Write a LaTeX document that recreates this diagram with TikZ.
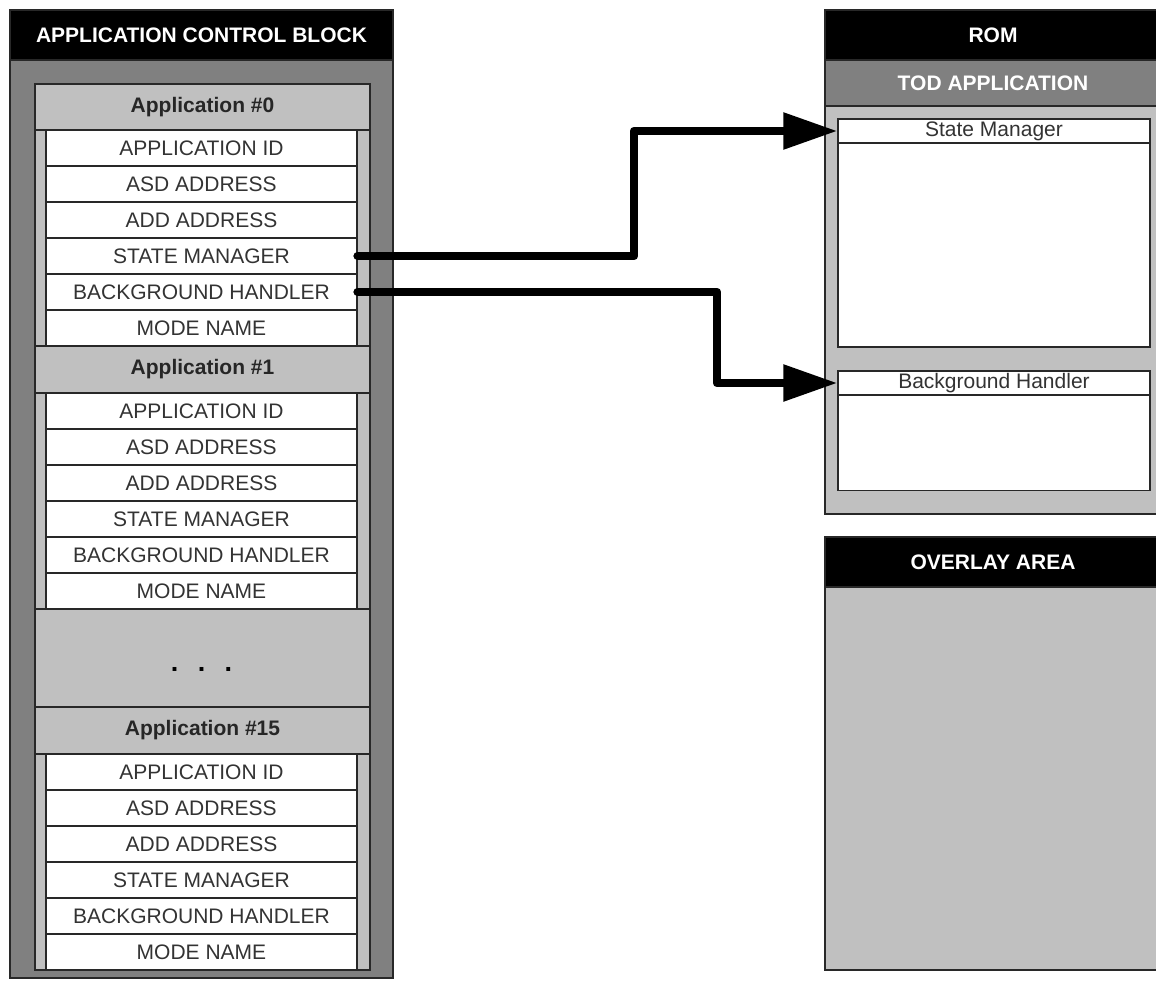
\documentclass[tikz,border=0pt]{standalone}
\usepackage{fontspec}
\setmainfont{Liberation Sans}
\usepackage{xcolor}
\usepackage{tikz}
\usetikzlibrary{arrows.meta,positioning,calc}

\definecolor{darkfill}{RGB}{128,128,128}
\definecolor{lightfill}{RGB}{192,192,192}
\definecolor{edge}{RGB}{40,40,40}

\begin{document}
\begin{tikzpicture}[
  x=1pt, y=-1pt,
  every node/.style={font=\fontsize{21}{24}\selectfont, inner sep=0pt},
  title/.style={rectangle, draw=edge, line width=1.2pt, fill=black,
    text=white, font=\fontsize{21}{24}\selectfont\bfseries,
    minimum width=#1, minimum height=50pt},
  panel/.style={rectangle, draw=edge, line width=1.2pt, fill=darkfill},
  column/.style={rectangle, draw=edge, line width=1.2pt, fill=lightfill,
    minimum width=335pt},
  apphead/.style={column, minimum height=47pt, text=black!85,
    font=\fontsize{21}{24}\selectfont\bfseries},
  field/.style={rectangle, draw=edge, line width=1.2pt, fill=white,
    minimum width=311pt, minimum height=36pt, text=black!80},
  slot/.style={rectangle, draw=edge, line width=1.2pt, fill=white,
    minimum width=312pt, text=black!80},
  arrow/.style={-{Triangle[length=54pt,width=35pt]}, line width=8.5pt,
    line cap=round, line join=round},
]
\path[use as bounding box, clip] (0,0) rectangle (1156,980);

% Application control block
\node[panel, minimum width=383pt, minimum height=918pt] (acb) at (201.5, 519) {};
\node[title=383pt] (acbtitle) at (201.5, 35) {APPLICATION CONTROL BLOCK};
\node[column, minimum height=886pt] (col) at (202.5, 527) {};

% Application #0
\node[apphead, minimum height=46pt] (app0) at (202.5, 107) {Application \#0};
\node[field] (a0id) at (201.5, 148) {APPLICATION ID};
\node[field] (a0asd) at (201.5, 184) {ASD ADDRESS};
\node[field] (a0add) at (201.5, 220) {ADD ADDRESS};
\node[field] (a0sm) at (201.5, 256) {STATE MANAGER};
\node[field] (a0bh) at (201.5, 292) {BACKGROUND HANDLER};
\node[field] (a0mn) at (201.5, 328) {MODE NAME};

% Application #1
\node[apphead] (app1) at (202.5, 369.5) {Application \#1};
\node[field] (a1id) at (201.5, 411) {APPLICATION ID};
\node[field] (a1asd) at (201.5, 447) {ASD ADDRESS};
\node[field] (a1add) at (201.5, 483) {ADD ADDRESS};
\node[field] (a1sm) at (201.5, 519) {STATE MANAGER};
\node[field] (a1bh) at (201.5, 555) {BACKGROUND HANDLER};
\node[field] (a1mn) at (201.5, 591) {MODE NAME};

% gap
\node[column, minimum height=98pt] (gap) at (202.5, 658) {};
\node[font=\fontsize{27}{30}\selectfont\bfseries] (dots) at (201.5, 669)
  {.\hspace{0.72em}.\hspace{0.72em}.};

% Application #15
\node[apphead] (app15) at (202.5, 730.5) {Application \#15};
\node[field] (a15id) at (201.5, 772) {APPLICATION ID};
\node[field] (a15asd) at (201.5, 808) {ASD ADDRESS};
\node[field] (a15add) at (201.5, 844) {ADD ADDRESS};
\node[field] (a15sm) at (201.5, 880) {STATE MANAGER};
\node[field] (a15bh) at (201.5, 916) {BACKGROUND HANDLER};
\node[field] (a15mn) at (201.5, 952) {MODE NAME};

% ROM
\node[panel, fill=lightfill, minimum width=336pt, minimum height=454pt] (rom) at (993, 287) {};
\node[panel, minimum width=336pt, minimum height=46pt, text=white,
  font=\fontsize{21}{24}\selectfont\bfseries] (tod) at (993, 83) {TOD APPLICATION};
\node[title=336pt] (romtitle) at (993, 35) {ROM};
\node[slot, minimum height=204pt] (smbody) at (994, 245) {};
\node[slot, minimum height=24pt] (smtitle) at (994, 131) {State Manager};
\node[slot, minimum height=96pt] (bhbody) at (994, 442.5) {};
\node[slot, minimum height=24pt] (bhtitle) at (994, 383) {Background Handler};

% Overlay area
\node[panel, fill=lightfill, minimum width=336pt, minimum height=383pt] (ovl) at (993, 778.5) {};
\node[title=336pt] (ovltitle) at (993, 562) {OVERLAY AREA};

% Arrows
\coordinate (k1) at (634, 0);
\coordinate (k2) at (717, 0);
\draw[arrow] (a0sm.east) -- (a0sm.east -| k1) |- (smtitle.west);
\draw[arrow] (a0bh.east) -- (a0bh.east -| k2) |- (bhtitle.west);
\end{tikzpicture}
\end{document}
